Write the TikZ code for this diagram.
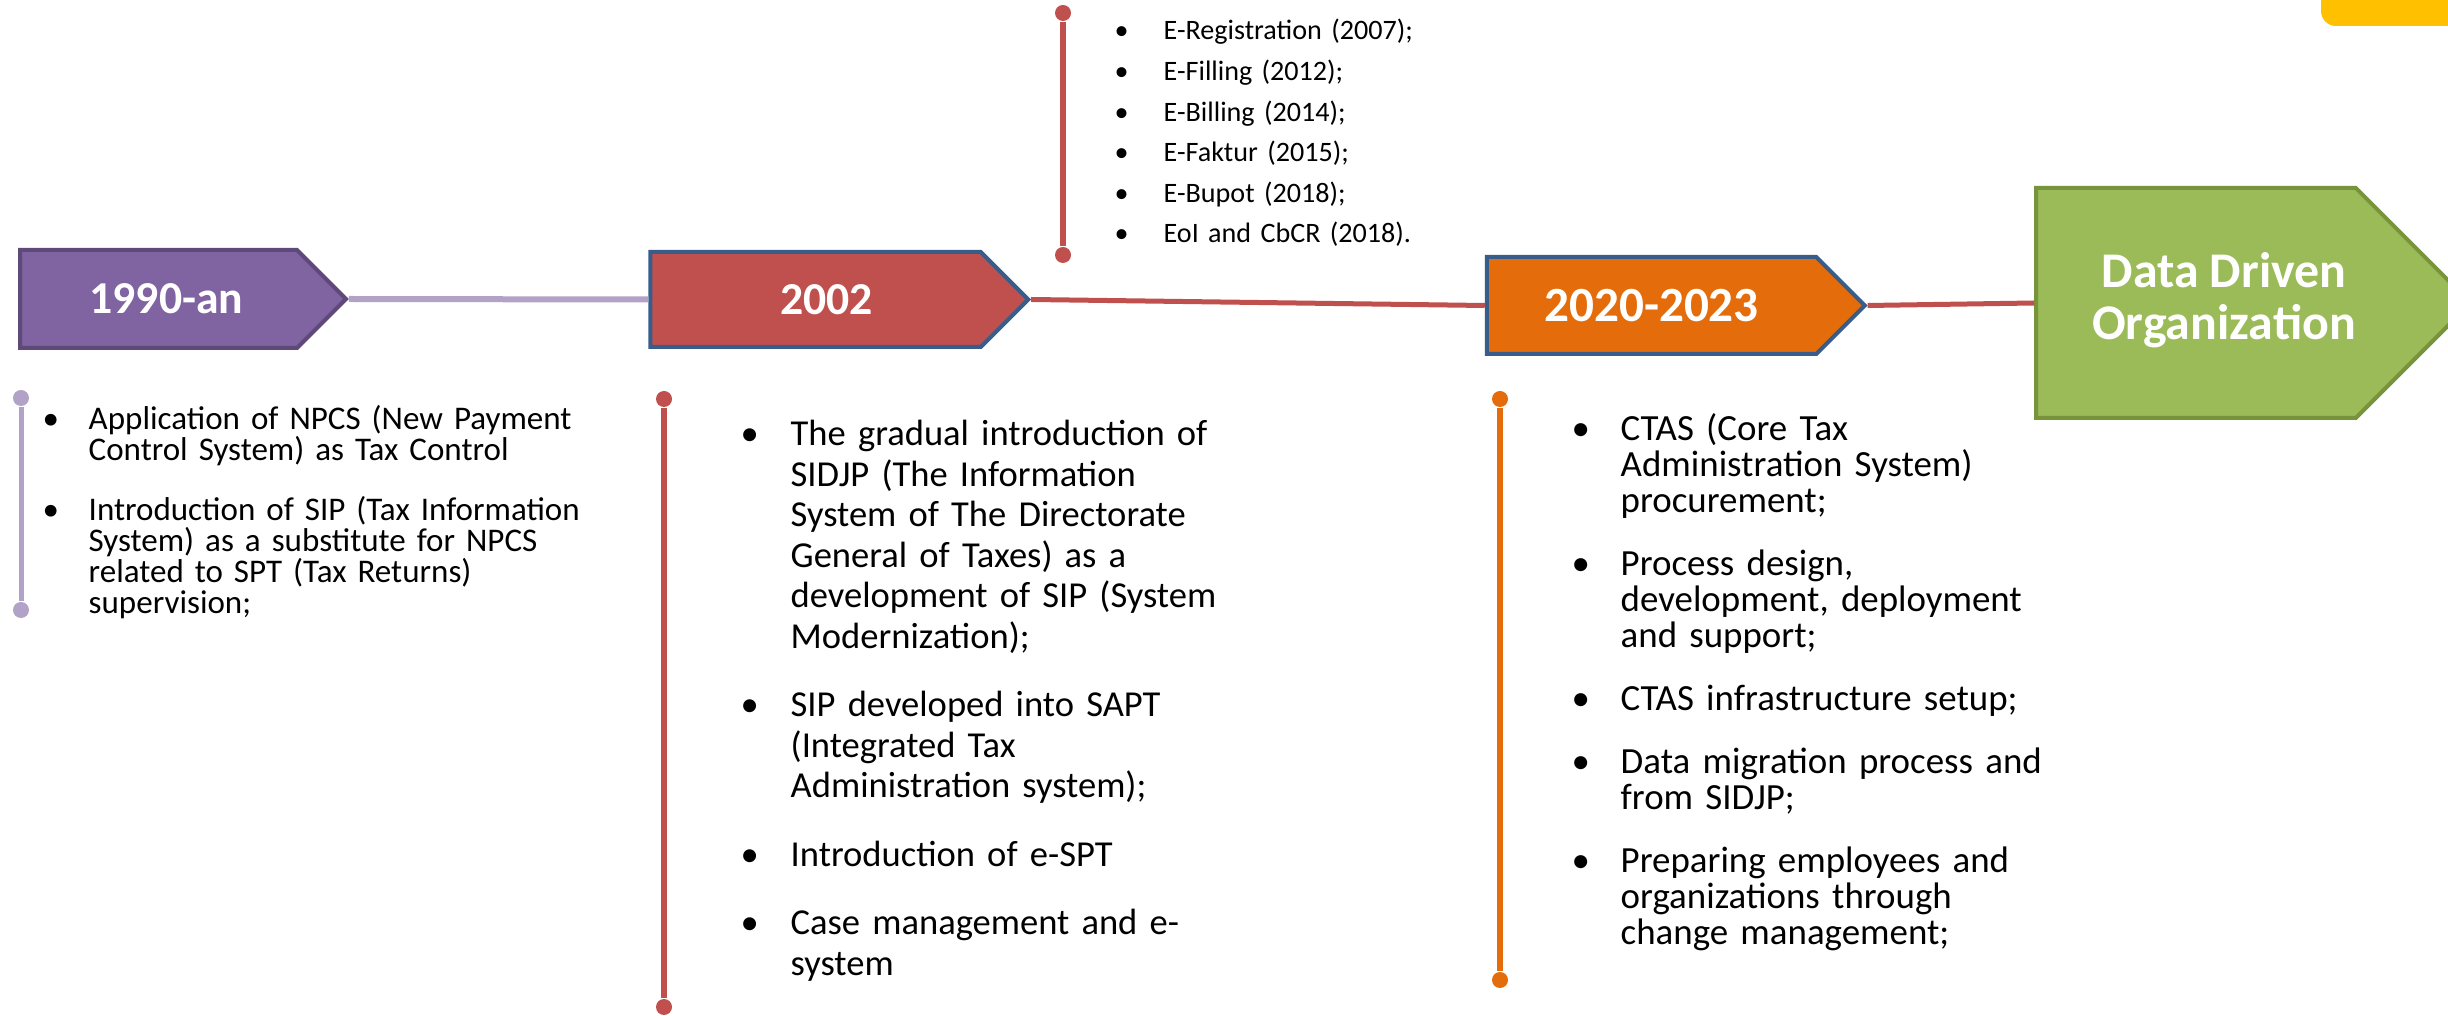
\documentclass[tikz,border=0pt]{standalone}
\usepackage{fontspec}
\setmainfont{Carlito}
\usetikzlibrary{shapes.symbols,positioning}

\definecolor{purpfill}{HTML}{8064A2}
\definecolor{purpdraw}{HTML}{5F497A}
\definecolor{lilac}{HTML}{B3A2C7}
\definecolor{redfill}{HTML}{C0504D}
\definecolor{bluedraw}{HTML}{385D8A}
\definecolor{orangefill}{HTML}{E46C0A}
\definecolor{greenfill}{HTML}{9BBB59}
\definecolor{greendraw}{HTML}{77933C}
\definecolor{yellowtab}{HTML}{FFC000}

\newlength{\lind}
\newlength{\lsep}
\newcommand{\litem}[1]{\noindent\hangindent=\lind\hangafter=1
  \makebox[\lind][l]{\textbullet}#1\par}
\newcommand{\lgap}{\vspace{\lsep}}
\newcommand{\lbr}{\hfil\break}

\begin{document}
\begin{tikzpicture}[x=0.1mm, y=-0.1mm,
  stage/.style={signal, signal to=east, signal pointer angle=90, line width=0.4mm,
    text=white, inner sep=0pt, font=\bfseries\fontsize{13}{13.5}\selectfont},
  bullets/.style n args={4}{anchor=base west, inner sep=0pt, text width=70mm,
    font=\fontsize{#1}{#2}\selectfont,
    execute at begin node={\raggedright\setlength{\lind}{#3}\setlength{\lsep}{#4}}},
  dot/.style={circle, inner sep=0pt, minimum size=1.6mm, fill=#1},
  timeline/.style={line width=0.5mm, draw=#1}]
\useasboundingbox (0,0) rectangle (2448,1016);

% corner tab
\fill[yellowtab, rounded corners=1.5mm] (2321,-30) rectangle (2480,26);

% stages
\node[stage, fill=purpfill, draw=purpdraw, minimum width=32.6mm, minimum height=9.8mm] (y1990) at (158.5,299) {\hspace*{1.6mm}1990-an};
\node[stage, fill=redfill, draw=bluedraw, minimum width=37.8mm, minimum height=9.5mm] (y2002) at (815.5,299.5) {\hspace*{2.2mm}2002};
\node[stage, fill=orangefill, draw=bluedraw, minimum width=37.8mm, minimum height=9.7mm,
  font=\bfseries\fontsize{14}{14}\selectfont] (y2020) at (1651.5,305.5) {2020-2023};
\node[stage, fill=greenfill, draw=greendraw, minimum width=37.9mm, minimum height=23mm,
  font=\bfseries\fontsize{14.2}{15}\selectfont] (ddo) at (2196,303)
  {\hspace*{5.6mm}\raisebox{-0.6mm}{\begin{tabular}{@{}c@{}}Data Driven\\Organization\end{tabular}}};

\draw[timeline=lilac, line width=0.6mm] (y1990.east) -- (y2002.west);
\draw[timeline=redfill] (y2002.east) -- (y2020.west);
\draw[timeline=redfill] (y2020.east) -- (ddo.west);

% brackets
\node[dot=lilac] (b1top) at (21,398) {};
\node[dot=lilac] (b1bot) at (21,610) {};
\draw[timeline=lilac] (b1top) -- (b1bot);
\node[dot=redfill] (b0top) at (1063,13) {};
\node[dot=redfill] (b0bot) at (1063,255) {};
\draw[timeline=redfill, line width=0.6mm] (b0top) -- (b0bot);
\node[dot=redfill] (b2top) at (664,399) {};
\node[dot=redfill] (b2bot) at (664,1007) {};
\draw[timeline=redfill, line width=0.6mm] (b2top) -- (b2bot);
\node[dot=orangefill] (b3top) at (1500,399) {};
\node[dot=orangefill] (b3bot) at (1500,980) {};
\draw[timeline=orangefill, line width=0.6mm] (b3top) -- (b3bot);

% lists
\node[bullets={8.0}{11.55}{4.9mm}{0mm}] (eserv) at (1114,40) {%
  \litem{E-Registration (2007);}
  \litem{E-Filling (2012);}
  \litem{E-Billing (2014);}
  \litem{E-Faktur (2015);}
  \litem{E-Bupot (2018);}
  \litem{EoI and CbCR (2018).}};
\node[bullets={9.4}{8.82}{4.6mm}{2.9mm}] (l1990) at (42,430) {%
  \litem{Application of NPCS (New Payment\lbr Control System) as Tax Control}\lgap
  \litem{Introduction of SIP (Tax Information\lbr System) as a substitute for NPCS\lbr related to SPT (Tax Returns)\lbr supervision;}};
\node[bullets={10.4}{11.52}{5mm}{2.8mm}] (l2002) at (740,446) {%
  \litem{The gradual introduction of\lbr SIDJP (The Information\lbr System of The Directorate\lbr General of Taxes) as a\lbr development of SIP (System\lbr Modernization);}\lgap
  \litem{SIP developed into SAPT\lbr (Integrated Tax\lbr Administration system);}\lgap
  \litem{Introduction of e-SPT}\lgap
  \litem{Case management and e-\lbr system}};
\node[bullets={10.5}{10.24}{4.9mm}{2.7mm}] (l2020) at (1571,441) {%
  \litem{CTAS (Core Tax\lbr Administration System)\lbr procurement;}\lgap
  \litem{Process design,\lbr development, deployment\lbr and support;}\lgap
  \litem{CTAS infrastructure setup;}\lgap
  \litem{Data migration process and\lbr from SIDJP;}\lgap
  \litem{Preparing employees and\lbr organizations through\lbr change management;}};
\end{tikzpicture}
\end{document}
